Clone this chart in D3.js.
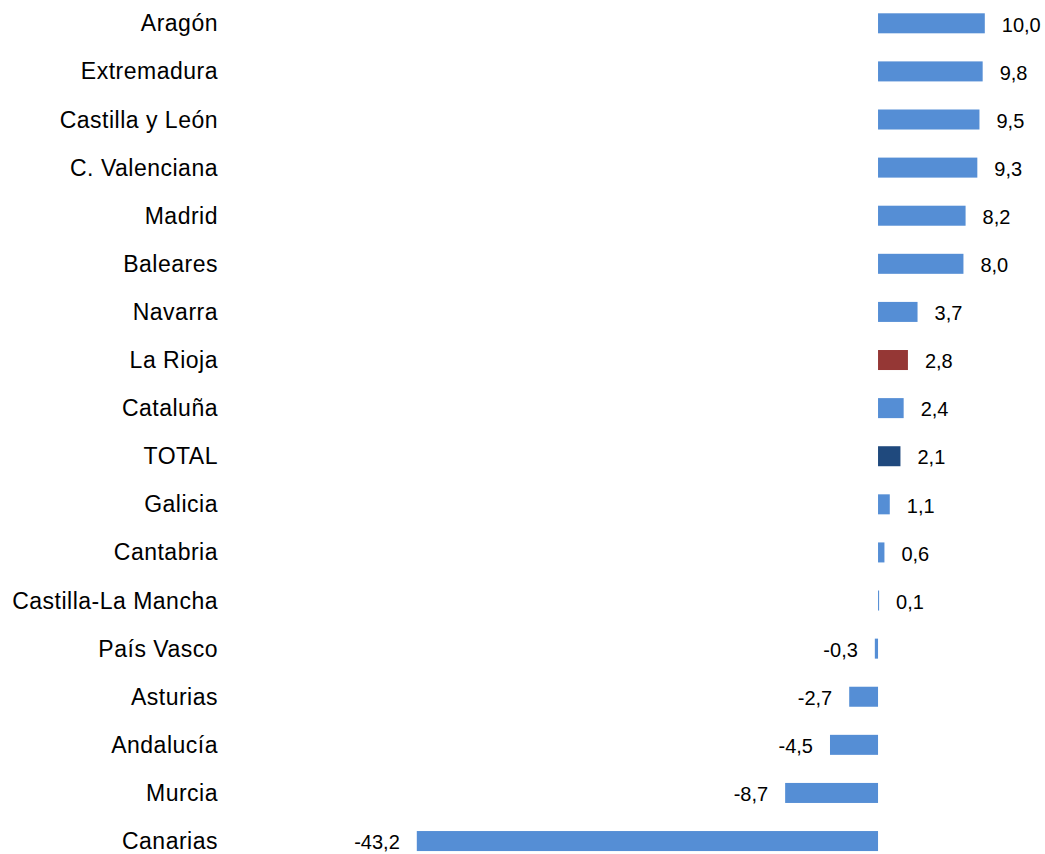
<!DOCTYPE html>
<html>
<head>
<meta charset="utf-8">
<script src="https://cdn.jsdelivr.net/npm/d3@7"></script>
<style>
  html, body { margin: 0; padding: 0; background: #fff; }
  svg { display: block; }
  text { font-family: "Liberation Sans", Arial, Helvetica, sans-serif; fill: #000; }
</style>
</head>
<body>
<svg id="chart" width="1045" height="854"></svg>
<script>
const categories = ["Aragón","Extremadura","Castilla y León","C. Valenciana","Madrid","Baleares","Navarra","La Rioja","Cataluña","TOTAL","Galicia","Cantabria","Castilla-La Mancha","País Vasco","Asturias","Andalucía","Murcia","Canarias"];
const values = [10.0, 9.8, 9.5, 9.3, 8.2, 8.0, 3.7, 2.8, 2.4, 2.1, 1.1, 0.6, 0.1, -0.3, -2.7, -4.5, -8.7, -43.2];
const highlight = {"La Rioja": "#953735", "TOTAL": "#1f497d"};
const baseColor = "#558ed5";

const data = categories.map((c, i) => ({cat: c, v: values[i]}));
const svg = d3.select("#chart");

const x = d3.scaleLinear().domain([-43.2, 10]).range([416.8, 984.8]);
const y = d3.scaleBand().domain(categories).range([-0.75, 865.1]).paddingInner(0.584).paddingOuter(0.292);

svg.selectAll("rect.bar").data(data).join("rect")
  .attr("class", "bar")
  .attr("x", d => Math.min(x(0), x(d.v)))
  .attr("width", d => Math.max(1, Math.abs(x(d.v) - x(0))))
  .attr("y", d => y(d.cat))
  .attr("height", y.bandwidth())
  .attr("fill", d => highlight[d.cat] || baseColor);

const yAxis = d3.axisLeft(y).tickSize(0).tickPadding(0);
const gy = svg.append("g").attr("transform", "translate(218,0)").call(yAxis);
gy.select(".domain").remove();
gy.selectAll("text")
  .style("font-size", "23px")
  .style("letter-spacing", "0.5px")
  .attr("font-family", null)
  .attr("dy", "0.35em")
  .attr("x", 0);

const fmt = v => d3.format(".1f")(v).replace(".", ",").replace("−", "-");
svg.selectAll("text.val").data(data).join("text")
  .attr("class", "val")
  .attr("x", d => d.v >= 0 ? x(d.v) + 17 : x(d.v) - 17)
  .attr("y", d => y(d.cat) + y.bandwidth() / 2 + 1)
  .attr("dy", "0.36em")
  .attr("text-anchor", d => d.v >= 0 ? "start" : "end")
  .style("font-size", "20px")
  .text(d => fmt(d.v));
</script>
</body>
</html>
